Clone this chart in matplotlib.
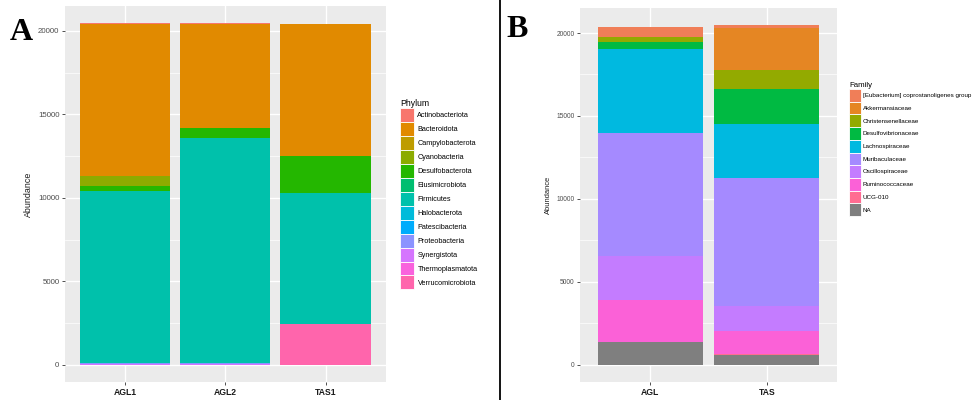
import numpy as np
import matplotlib.pyplot as plt
from matplotlib.patches import Patch

plt.rcParams['font.family'] = ['Liberation Sans', 'DejaVu Sans']

# ---- panel A: phylum level ----
samples_a = ['AGL1', 'AGL2', 'TAS1']
phyla = ['Actinobacteriota', 'Bacteroidota', 'Campylobacterota', 'Cyanobacteria',
         'Desulfobacterota', 'Elusimicrobiota', 'Firmicutes', 'Halobacterota',
         'Patescibacteria', 'Proteobacteria', 'Synergistota', 'Thermoplasmatota',
         'Verrucomicrobiota']
phylum_colors = ['#F8766D', '#E18A00', '#BE9C00', '#8CAB00', '#24B700', '#00BE70',
                 '#00C1AB', '#00BBDA', '#00ACFC', '#8B93FF', '#D575FE', '#F962DD',
                 '#FF65AC']
# abundance per phylum, columns AGL1, AGL2, TAS1
phylum_abund = {
    'Actinobacteriota':  [30, 50, 20],
    'Bacteroidota':      [9125, 6240, 7880],
    'Campylobacterota':  [5, 0, 0],
    'Cyanobacteria':     [570, 0, 0],
    'Desulfobacterota':  [300, 620, 2260],
    'Elusimicrobiota':   [10, 0, 0],
    'Firmicutes':        [10340, 13440, 7820],
    'Halobacterota':     [0, 0, 0],
    'Patescibacteria':   [0, 0, 0],
    'Proteobacteria':    [70, 110, 15],
    'Synergistota':      [10, 10, 0],
    'Thermoplasmatota':  [0, 0, 5],
    'Verrucomicrobiota': [0, 0, 2420],
}

# ---- panel B: family level ----
samples_b = ['AGL', 'TAS']
families = ['[Eubacterium] coprostanoligenes group', 'Akkermansiaceae',
            'Christensenellaceae', 'Desulfovibrionaceae', 'Lachnospiraceae',
            'Muribaculaceae', 'Oscillospiraceae', 'Ruminococcaceae', 'UCG-010', 'NA']
family_colors = ['#F07E58', '#E58623', '#93AA00', '#00BA42', '#00B9E0',
                 '#A58AFF', '#C47CFF', '#FB61D7', '#FF6C91', '#7F7F7F']
family_abund = {
    '[Eubacterium] coprostanoligenes group': [610, 160],
    'Akkermansiaceae':     [0, 2550],
    'Christensenellaceae': [300, 1130],
    'Desulfovibrionaceae': [400, 2140],
    'Lachnospiraceae':     [5080, 3220],
    'Muribaculaceae':      [7410, 7730],
    'Oscillospiraceae':    [2620, 1530],
    'Ruminococcaceae':     [2550, 1360],
    'UCG-010':             [10, 100],
    'NA':                  [1360, 560],
}


def stacked(ax, samples, groups, colors, abund):
    x = np.arange(1, len(samples) + 1)
    bottom = np.zeros(len(samples))
    # first group ends up on top, like ggplot's position_stack
    for g, c in reversed(list(zip(groups, colors))):
        vals = np.array(abund[g], dtype=float)
        ax.bar(x, vals, width=0.9, bottom=bottom, color=c, linewidth=0, zorder=3)
        bottom += vals
    top = bottom.max()
    ax.set_xlim(0.4, len(samples) + 0.6)
    ax.set_ylim(-0.05 * top, 1.05 * top)
    ax.set_xticks(x)
    ax.set_xticklabels(samples, fontweight='bold', color='#1A1A1A')
    ax.set_yticks([0, 5000, 10000, 15000, 20000])
    ax.set_yticks([2500, 7500, 12500, 17500], minor=True)
    ax.set_facecolor('#EBEBEB')
    ax.grid(True, which='major', color='white', linewidth=1.0, zorder=0)
    ax.grid(True, which='minor', axis='y', color='white', linewidth=0.5, zorder=0)
    ax.set_axisbelow(True)
    for s in ax.spines.values():
        s.set_visible(False)
    ax.tick_params(axis='both', which='major', length=2.5, color='#333333', width=0.6)
    ax.tick_params(axis='y', which='minor', length=0)
    ax.tick_params(axis='y', labelcolor='#4D4D4D', pad=1.5)
    ax.tick_params(axis='x', pad=2)
    ax.set_ylabel('Abundance', color='#1A1A1A')


fig = plt.figure(figsize=(9.77, 4.0), dpi=100)

axA = fig.add_axes([0.0665, 0.0458, 0.3283, 0.939])
stacked(axA, samples_a, phyla, phylum_colors, phylum_abund)
axA.tick_params(axis='y', labelsize=5.7)
axA.tick_params(axis='x', labelsize=6.2)
axA.yaxis.label.set_size(6.4)
axA.yaxis.set_label_coords(-0.1, 0.5)
handles = [Patch(facecolor=c, edgecolor='white', linewidth=0.6) for c in phylum_colors]
legA = fig.legend(handles, phyla, title='Phylum', loc='upper left',
                  bbox_to_anchor=(394 / 977, 1 - 93 / 400), frameon=False,
                  fontsize=5.2, title_fontsize=6.2, handlelength=1.95,
                  handleheight=2.6, labelspacing=0.0, handletextpad=0.5,
                  borderpad=0.3)
legA._legend_box.align = 'left'

axB = fig.add_axes([0.5937, 0.0458, 0.263, 0.934])
stacked(axB, samples_b, families, family_colors, family_abund)
axB.tick_params(axis='y', labelsize=4.8)
axB.tick_params(axis='x', labelsize=6.2)
axB.yaxis.label.set_size(5.4)
axB.yaxis.set_label_coords(-0.11, 0.5)
handles = [Patch(facecolor=c, edgecolor='white', linewidth=0.6) for c in family_colors]
legB = fig.legend(handles, families, title='Family', loc='upper left',
                  bbox_to_anchor=(844 / 977, 1 - 77 / 400), frameon=False,
                  fontsize=4.5, title_fontsize=5.6, handlelength=1.9,
                  handleheight=2.75, labelspacing=0.0, handletextpad=0.3,
                  borderpad=0.3)
legB._legend_box.align = 'left'

# panel letters and divider
fig.text(10 / 977, 1 - 40 / 400, 'A', family='Liberation Serif', fontweight='bold',
         fontsize=23)
fig.text(506 / 977, 1 - 37 / 400, 'B', family='Liberation Serif', fontweight='bold',
         fontsize=23)
fig.add_artist(plt.Line2D([500 / 977, 500 / 977], [0, 1], color='black', linewidth=1.3))

fig.savefig('out.png', dpi=100)
